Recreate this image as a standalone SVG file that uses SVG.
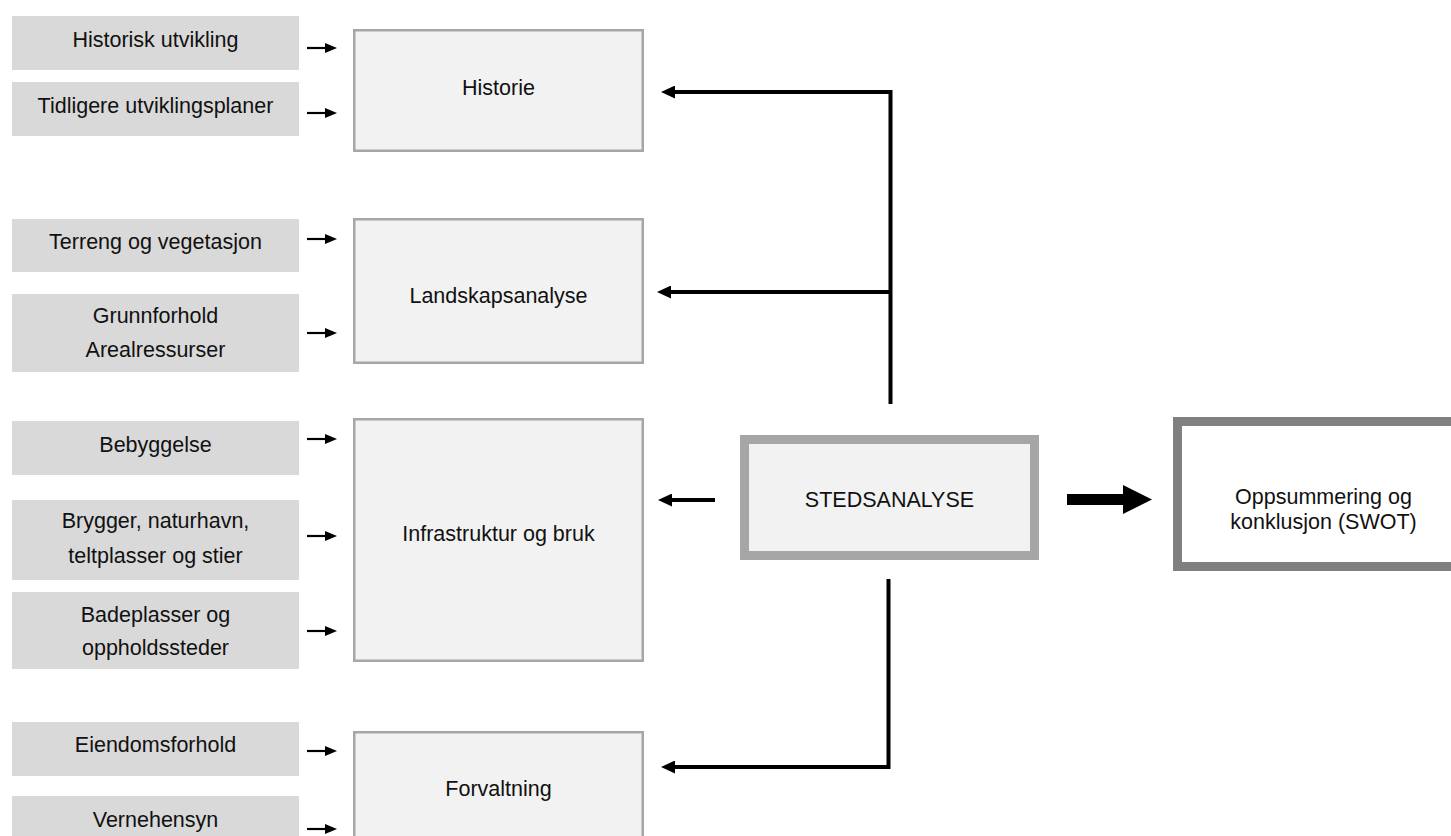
<svg xmlns="http://www.w3.org/2000/svg" width="1451" height="836" viewBox="0 0 1451 836">
<defs>
<style>
text{font-family:"Liberation Sans",Arial,sans-serif;font-size:21.5px;fill:#111;text-anchor:middle}
.src{fill:#d9d9d9}
.mid{fill:#f2f2f2;stroke:#a6a6a6;stroke-width:2.5}
.sm{stroke:#000;stroke-width:2.2;fill:none;marker-end:url(#ahS)}
.big{stroke:#000;stroke-width:4;fill:none;marker-end:url(#ahB)}
</style>
<marker id="ahS" markerUnits="userSpaceOnUse" markerWidth="12" markerHeight="10" refX="0" refY="5" orient="auto"><path d="M0,0 L12,5 L0,10 z" fill="#000"/></marker>
<marker id="ahB" markerUnits="userSpaceOnUse" markerWidth="14" markerHeight="13" refX="0" refY="6.5" orient="auto"><path d="M0,0 L14,6.5 L0,13 z" fill="#000"/></marker>
</defs>
<rect width="1451" height="836" fill="#fff"/>

<g id="n-historisk-utvikling"><rect class="src" x="12" y="16" width="287" height="54"/><text x="155.5" y="47">Historisk utvikling</text></g>
<g id="n-tidligere"><rect class="src" x="12" y="82" width="287" height="54"/><text x="155.5" y="113">Tidligere utviklingsplaner</text></g>
<g id="n-terreng"><rect class="src" x="12" y="219" width="287" height="53"/><text x="155.5" y="249">Terreng og vegetasjon</text></g>
<g id="n-grunnforhold"><rect class="src" x="12" y="294" width="287" height="78"/><text x="155.5" y="323">Grunnforhold</text><text x="155.5" y="357">Arealressurser</text></g>
<g id="n-bebyggelse"><rect class="src" x="12" y="421" width="287" height="54"/><text x="155.5" y="452">Bebyggelse</text></g>
<g id="n-brygger"><rect class="src" x="12" y="500" width="287" height="80"/><text x="155.5" y="528">Brygger, naturhavn,</text><text x="155.5" y="563">teltplasser og stier</text></g>
<g id="n-badeplasser"><rect class="src" x="12" y="592" width="287" height="77"/><text x="155.5" y="622">Badeplasser og</text><text x="155.5" y="655">oppholdssteder</text></g>
<g id="n-eiendomsforhold"><rect class="src" x="12" y="722" width="287" height="54"/><text x="155.5" y="752">Eiendomsforhold</text></g>
<g id="n-vernehensyn"><rect class="src" x="12" y="796" width="287" height="60"/><text x="155.5" y="827">Vernehensyn</text></g>

<g id="n-historie"><rect class="mid" x="354.25" y="30.25" width="288.5" height="120.5"/><text x="498.5" y="95">Historie</text></g>
<g id="n-landskapsanalyse"><rect class="mid" x="354.25" y="219.25" width="288.5" height="143.5"/><text x="498.5" y="303">Landskapsanalyse</text></g>
<g id="n-infrastruktur"><rect class="mid" x="354.25" y="419.25" width="288.5" height="241.5"/><text x="498.5" y="541">Infrastruktur og bruk</text></g>
<g id="n-forvaltning"><rect class="mid" x="354.25" y="732.25" width="288.5" height="200"/><text x="498.5" y="796">Forvaltning</text></g>

<g id="n-stedsanalyse"><rect x="744.5" y="439.5" width="290" height="116" fill="#f2f2f2" stroke="#a6a6a6" stroke-width="9"/><text x="889.5" y="507">STEDSANALYSE</text></g>
<g id="n-oppsummering"><rect x="1177.5" y="421.5" width="400" height="145" fill="#fff" stroke="#808080" stroke-width="9"/><text x="1323.5" y="504">Oppsummering og</text><text x="1323.5" y="529">konklusjon (SWOT)</text></g>

<g id="connectors">
<path class="sm" d="M307,48 H325"/>
<path class="sm" d="M307,113 H325"/>
<path class="sm" d="M307,239 H325"/>
<path class="sm" d="M307,333 H325"/>
<path class="sm" d="M307,439 H325"/>
<path class="sm" d="M307,536 H325"/>
<path class="sm" d="M307,631 H325"/>
<path class="sm" d="M307,751 H325"/>
<path class="sm" d="M307,829 H325"/>
<path class="big" d="M890.5,404 V92 H675"/>
<path class="big" d="M890.5,292 H671"/>
<path class="big" d="M715,500 H672"/>
<path class="big" d="M888.5,579 V767 H675"/>
<polygon points="1067,494 1123,494 1123,485 1152,499.5 1123,514 1123,505 1067,505" fill="#000"/>
</g>
</svg>
